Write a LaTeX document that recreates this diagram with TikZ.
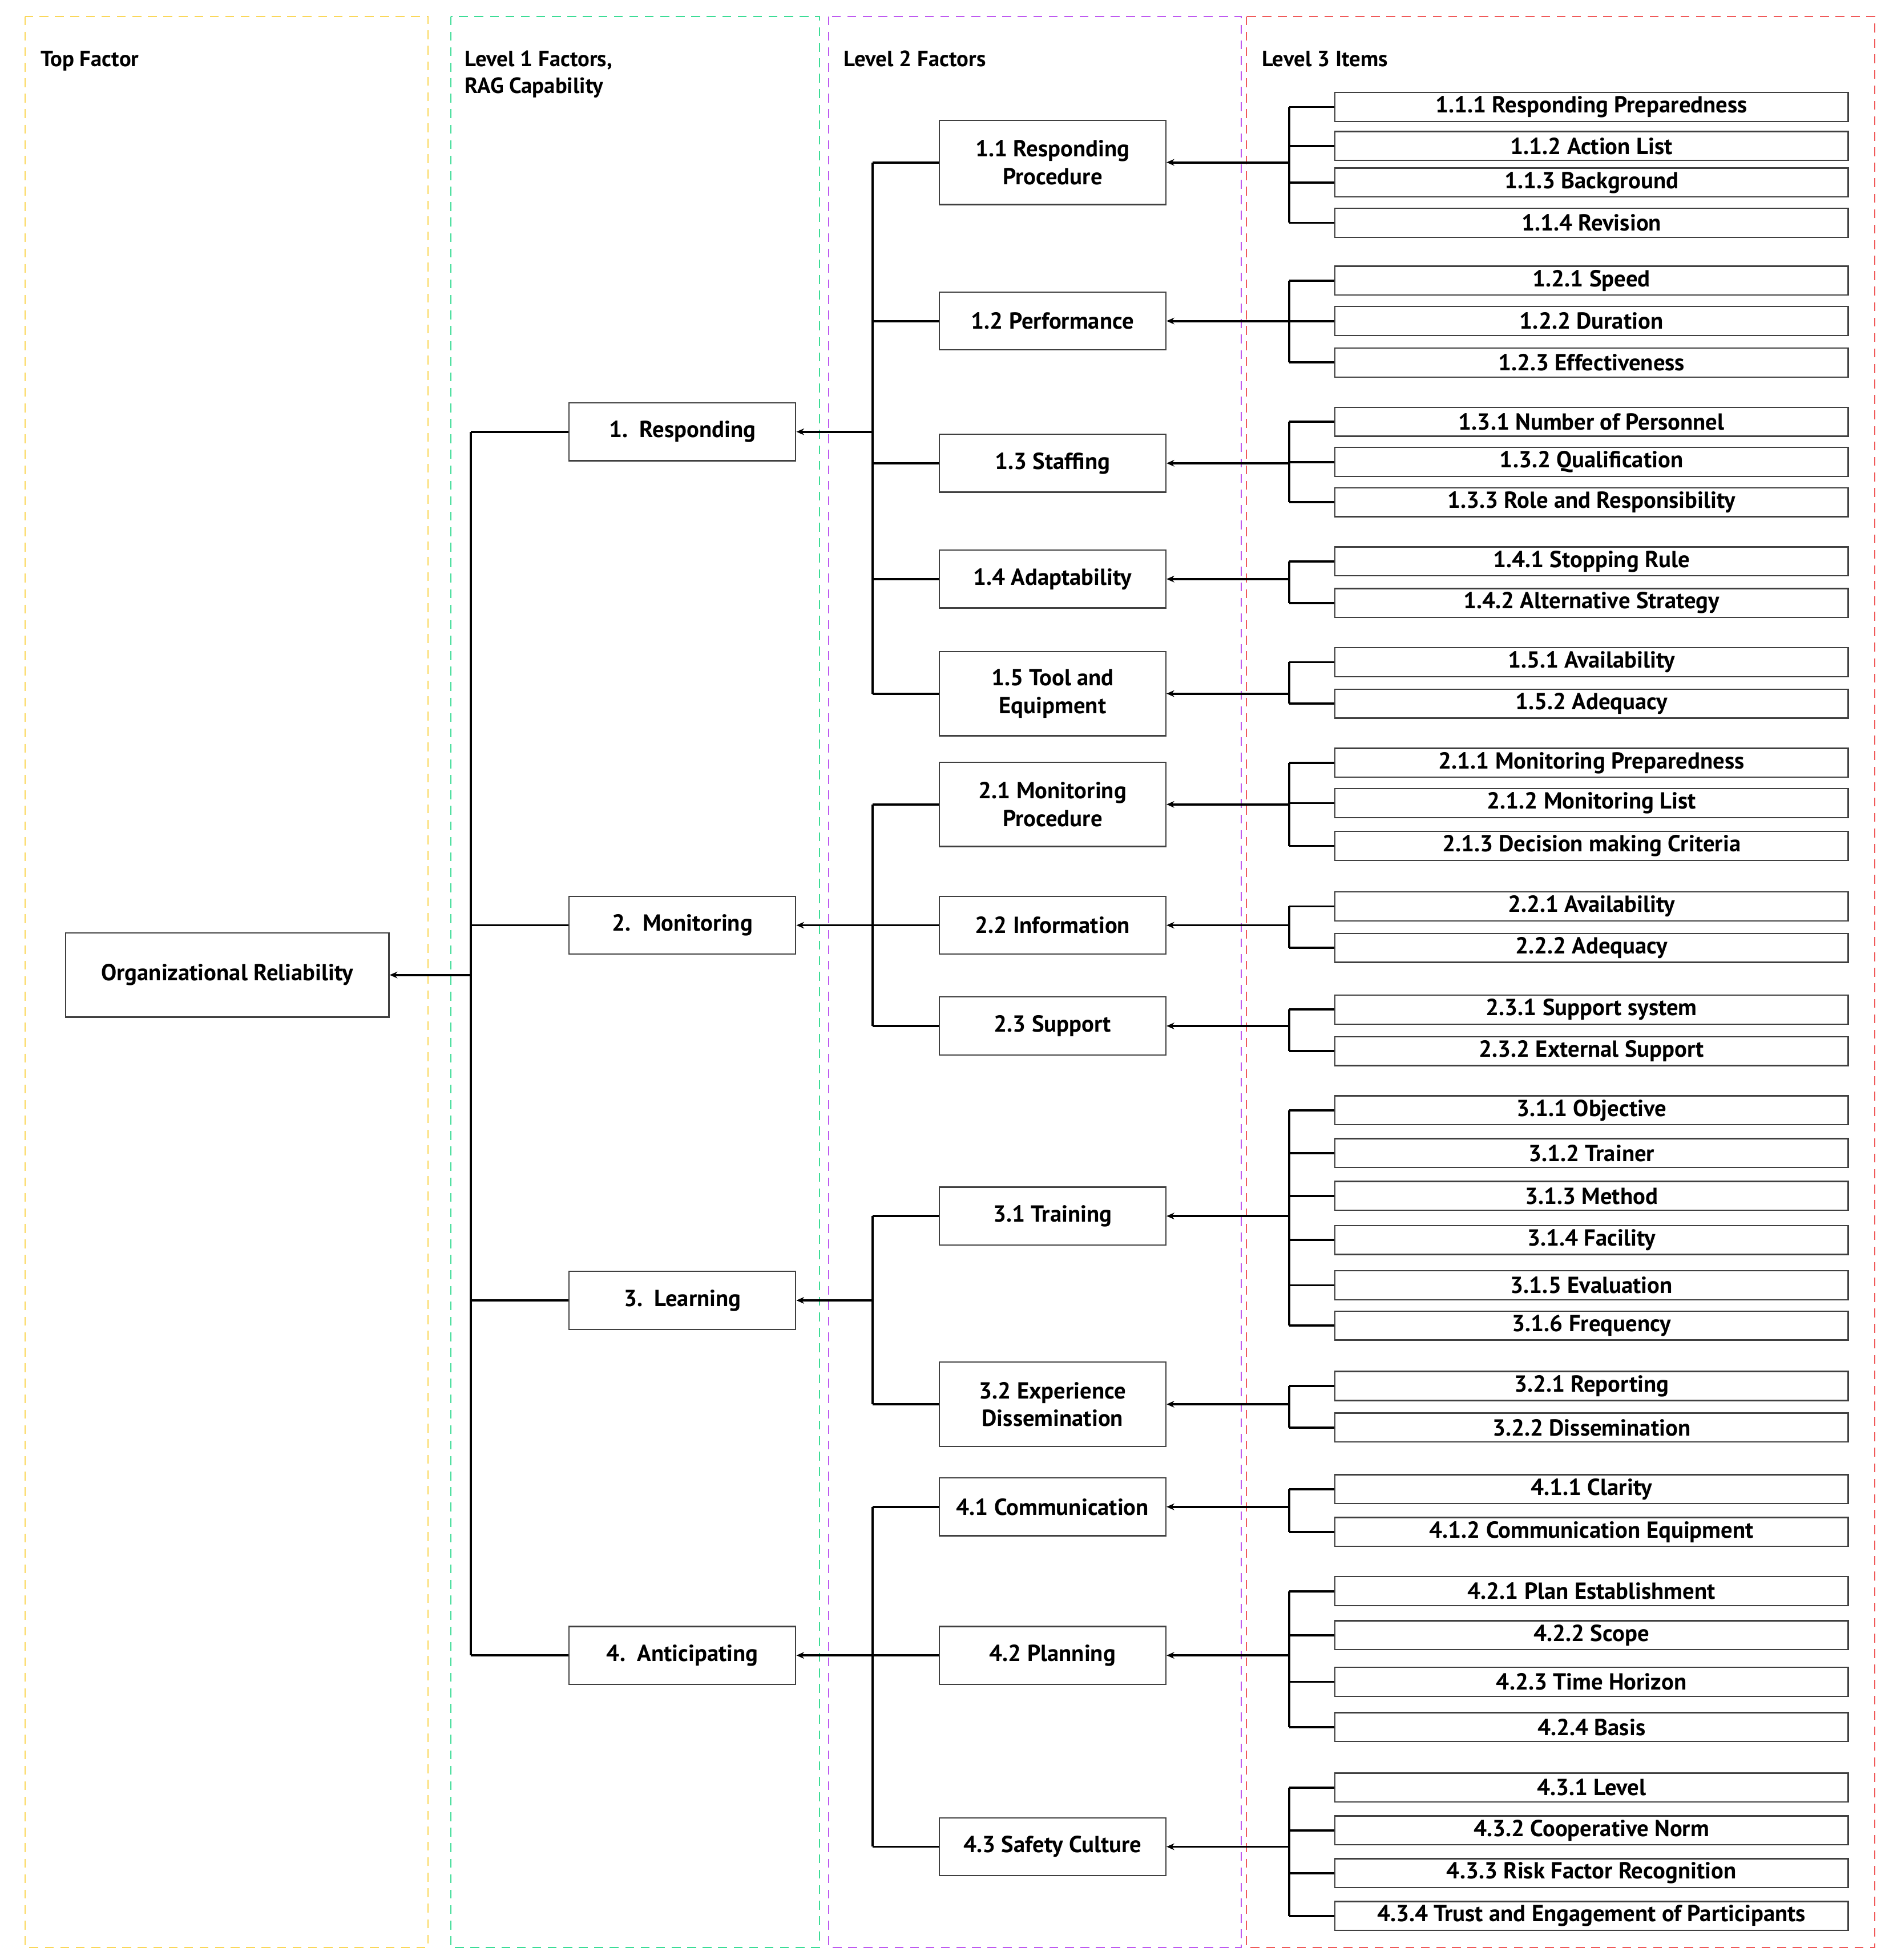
\documentclass[tikz,border=0pt]{standalone}
\usepackage{fontspec}
\setmainfont{PT Sans}
\usetikzlibrary{arrows.meta}
\begin{document}
\begin{tikzpicture}[x=0.02cm,y=-0.02cm,font=\bfseries\fontsize{10.5}{12.5}\selectfont,
 box/.style={draw=black!75,line width=0.6pt,rectangle,inner sep=0pt,align=center,fill=white},
 l1/.style={box,minimum width=3.6cm,minimum height=0.92cm},
 l2/.style={box,minimum width=3.6cm,minimum height=0.92cm},
 l2b/.style={box,minimum width=3.6cm,minimum height=1.34cm},
 l3/.style={box,minimum width=8.16cm,minimum height=0.46cm},
 ln/.style={line width=1pt},
 arr/.style={line width=1pt,-{Stealth[length=3.5pt,width=3pt]}},
 col/.style={dashed,line width=0.6pt,dash pattern=on 4pt off 3pt},
 hdr/.style={anchor=north west,align=left,inner sep=0pt,font=\bfseries\fontsize{10}{12}\selectfont}]
\useasboundingbox (0,0) rectangle (1500,1557);
\draw[col,draw={rgb,255:red,250;green,215;blue,90}] (20,13) rectangle (340,1547);
\draw[col,draw={rgb,255:red,60;green,220;blue,150}] (358,13) rectangle (651,1547);
\draw[col,draw={rgb,255:red,190;green,90;blue,240}] (658,13) rectangle (986,1547);
\draw[col,draw={rgb,255:red,240;green,90;blue,90}] (990,13) rectangle (1489,1547);
\node[hdr] (h0) at (32,40) {Top Factor};
\node[hdr] (h1) at (369,40) {Level 1 Factors,\\RAG Capability};
\node[hdr] (h2) at (670,40) {Level 2 Factors};
\node[hdr] (h3) at (1002,40) {Level 3 Items};
\node[box,minimum width=5.14cm,minimum height=1.34cm] (top) at (180.5,774.5) {Organizational Reliability};
% level 1
\foreach \n/\y/\t in {a/343/{1.\ \ Responding},b/735/{2.\ \ Monitoring},c/1033/{3.\ \ Learning},d/1315/{4.\ \ Anticipating}}{
 \node[l1] (L\n) at (542,\y) {\t};
 \draw[ln] (L\n.west) -- (374,\y);
}
\coordinate (t1) at (374,343); \coordinate (t2) at (374,1315); \coordinate (tm) at (374,774.5);
\draw[ln] (t1) -- (t2);
\draw[arr] (tm) -- (top.east);
% level 2
\foreach \n/\y/\s/\t in {
 a1/129/l2b/{1.1 Responding\\Procedure}, a2/255/l2/{1.2 Performance}, a3/368/l2/{1.3 Staffing},
 a4/460/l2/{1.4 Adaptability}, a5/551/l2b/{1.5 Tool and\\Equipment},
 b1/639/l2b/{2.1 Monitoring\\Procedure}, b2/735/l2/{2.2 Information}, b3/815/l2/{2.3 Support},
 c1/966/l2/{3.1 Training}, c2/1115.5/l2b/{3.2 Experience\\Dissemination},
 d1/1197/l2/{4.1 Communication}, d2/1315/l2/{4.2 Planning}, d3/1467/l2/{4.3 Safety Culture}}{
 \node[\s] (M\n) at (836,\y) {\t};
 \draw[ln] (M\n.west) -- (693,\y);
}
\foreach \g/\a/\b/\y in {a/129/551/343,b/639/815/735,c/966/1115.5/1033,d/1197/1467/1315}{
 \coordinate (B\g1) at (693,\a); \coordinate (B\g2) at (693,\b); \coordinate (B\g m) at (693,\y);
 \draw[ln] (B\g1) -- (B\g2);
 \draw[arr] (B\g m) -- (L\g.east);
}
% level 3
\foreach \p/\y/\lst in {
 a1/129/{85/1.1.1 Responding Preparedness,116/1.1.2 Action List,145/1.1.3 Background,177/1.1.4 Revision},
 a2/255/{223/1.2.1 Speed,255/1.2.2 Duration,288/1.2.3 Effectiveness},
 a3/368/{335/1.3.1 Number of Personnel,367/1.3.2 Qualification,399/1.3.3 Role and Responsibility},
 a4/460/{446/1.4.1 Stopping Rule,479/1.4.2 Alternative Strategy},
 a5/551/{526/1.5.1 Availability,559/1.5.2 Adequacy},
 b1/639/{606/2.1.1 Monitoring Preparedness,638/2.1.2 Monitoring List,672/2.1.3 Decision making Criteria},
 b2/735/{720/2.2.1 Availability,753/2.2.2 Adequacy},
 b3/815/{802/2.3.1 Support system,835/2.3.2 External Support},
 c1/966/{882/3.1.1 Objective,916/3.1.2 Trainer,950/3.1.3 Method,985/3.1.4 Facility,1021/3.1.5 Evaluation,1053/3.1.6 Frequency},
 c2/1115.5/{1101/3.2.1 Reporting,1134/3.2.2 Dissemination},
 d1/1197/{1183/4.1.1 Clarity,1217/4.1.2 Communication Equipment},
 d2/1315/{1264/4.2.1 Plan Establishment,1299/4.2.2 Scope,1336/4.2.3 Time Horizon,1372/4.2.4 Basis},
 d3/1467/{1420/4.3.1 Level,1454/4.3.2 Cooperative Norm,1488/4.3.3 Risk Factor Recognition,1522/4.3.4 Trust and Engagement of Participants}}{
 \foreach \yy/\t [count=\i] in \lst {
  \node[l3] (I\p-\i) at (1264,\yy) {\t};
  \draw[ln] (I\p-\i.west) -- (1024,\yy);
 }
 \coordinate (C\p) at (1024,\y);
 \draw[arr] (C\p) -- (M\p.east);
}
\foreach \p/\a/\b in {a1/85/177,a2/223/288,a3/335/399,a4/446/479,a5/526/559,b1/606/672,b2/720/753,b3/802/835,c1/882/1053,c2/1101/1134,d1/1183/1217,d2/1264/1372,d3/1420/1522}{
 \coordinate (D\p1) at (1024,\a); \coordinate (D\p2) at (1024,\b);
 \draw[ln] (D\p1) -- (D\p2);
}
\end{tikzpicture}
\end{document}
